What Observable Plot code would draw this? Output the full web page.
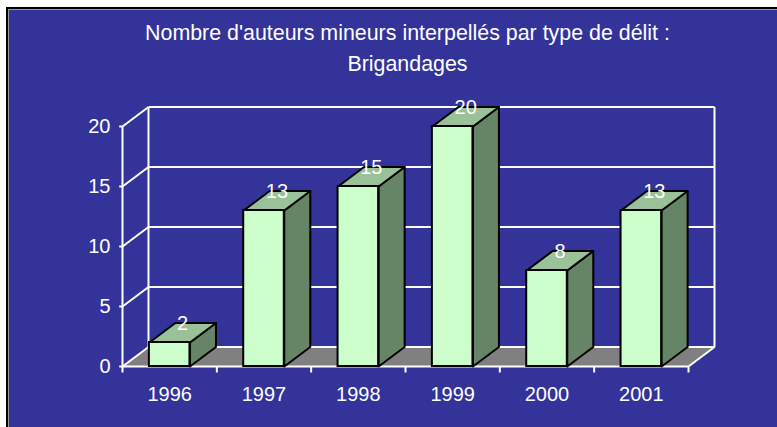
<!DOCTYPE html>
<html>
<head>
<meta charset="utf-8">
<script src="https://cdn.jsdelivr.net/npm/d3@7"></script>
<script src="https://cdn.jsdelivr.net/npm/@observablehq/plot@0.6"></script>
<style>
  html, body { margin: 0; padding: 0; background: #ffffff; width: 777px; height: 427px; overflow: hidden; }
  #panel { position: absolute; left: 6px; top: 7px; right: 0; bottom: 0; background: #333399;
           border-left: 2px solid #000; border-top: 2px solid #000; box-shadow: inset 1px 1px 0 #9a9a9a; }
  #title { position: absolute; left: 0; top: 18px; width: 815px; text-align: center; color: #ffffff;
           font-family: "Liberation Sans", Arial, sans-serif; font-size: 21.4px; line-height: 31px; }
  #chart { position: absolute; left: 0; top: 0; }
</style>
</head>
<body>
<div id="panel"></div>
<div id="title">Nombre d'auteurs mineurs interpellés par type de délit :<br>Brigandages</div>
<div id="chart"></div>
<script>
// ---- data ----
const years = ["1996", "1997", "1998", "1999", "2000", "2001"];
const values = [2, 13, 15, 20, 8, 13];
const yTicks = [0, 5, 10, 15, 20];

// ---- presentation constants (data units of the scales) ----
const depthX = 0.2756;   // 3D depth offset along x (in category units)
const depthY = 1.625;    // 3D depth offset along y (in value units)
const halfW = 0.215;     // half width of a bar (category units)
const nCat = years.length;
const yMax = yTicks[yTicks.length - 1];

const bars = years.map((yr, i) => ({year: yr, value: values[i], x0: i + 0.5 - halfW, x1: i + 0.5 + halfW, c: i + 0.5}));

// polygons for side and top faces
const sideFaces = [], topFaces = [];
bars.forEach((b, i) => {
  [[b.x1, 0], [b.x1 + depthX, depthY], [b.x1 + depthX, b.value + depthY], [b.x1, b.value]]
    .forEach(([x, y]) => sideFaces.push({id: i, x, y}));
  [[b.x0, b.value], [b.x1, b.value], [b.x1 + depthX, b.value + depthY], [b.x0 + depthX, b.value + depthY]]
    .forEach(([x, y]) => topFaces.push({id: i, x, y}));
});
const floor = [[0, 0], [nCat, 0], [nCat + depthX, depthY], [depthX, depthY]].map(([x, y]) => ({x, y}));

// white frame lines
const gridLines = [];
yTicks.forEach(t => {
  gridLines.push({x1: depthX, y1: t + depthY, x2: nCat + depthX, y2: t + depthY}); // back wall
  gridLines.push({x1: 0, y1: t, x2: depthX, y2: t + depthY});                      // left wall
});
gridLines.push({x1: depthX, y1: depthY, x2: depthX, y2: yMax + depthY});
gridLines.push({x1: nCat + depthX, y1: depthY, x2: nCat + depthX, y2: yMax + depthY});
gridLines.push({x1: nCat, y1: 0, x2: nCat + depthX, y2: depthY});
gridLines.push({x1: 0, y1: 0, x2: nCat, y2: 0});
gridLines.push({x1: 0, y1: 0, x2: 0, y2: yMax});

const boundaries = d3.range(0, nCat + 1);

const font = "'Liberation Sans', Arial, sans-serif";
const plot = Plot.plot({
  width: 777,
  height: 427,
  marginLeft: 122,
  marginRight: 89,
  marginTop: 126,
  marginBottom: 61,
  x: {type: "linear", domain: [0, nCat], axis: null},
  y: {type: "linear", domain: [0, yMax], axis: null},
  style: {background: "transparent", fontFamily: font, overflow: "visible"},
  marks: [
    Plot.line(floor, {x: "x", y: "y", curve: "linear-closed", fill: "#808080", stroke: "none"}),
    Plot.link(gridLines, {x1: "x1", y1: "y1", x2: "x2", y2: "y2", stroke: "#ffffff", strokeWidth: 2}),
    // y ticks
    Plot.link(yTicks, {x1: -0.035, x2: 0, y1: d => d, y2: d => d, stroke: "#ffffff", strokeWidth: 2}),
    // x ticks
    Plot.link(boundaries, {x1: d => d, x2: d => d, y1: 0, y2: -0.5, stroke: "#ffffff", strokeWidth: 2}),
    // bars
    Plot.line(sideFaces, {x: "x", y: "y", z: "id", curve: "linear-closed", fill: "#668566", stroke: "#000000", strokeWidth: 2, strokeLinejoin: "round"}),
    Plot.line(topFaces, {x: "x", y: "y", z: "id", curve: "linear-closed", fill: "#99c299", stroke: "#000000", strokeWidth: 2, strokeLinejoin: "round"}),
    Plot.rect(bars, {x1: "x0", x2: "x1", y1: 0, y2: "value", fill: "#ccffcc", stroke: "#000000", strokeWidth: 2}),
    // value labels
    Plot.text(bars, {x: d => d.c + depthX / 2, y: d => d.value + depthY / 2, text: d => String(d.value),
      fill: "#ffffff", fontSize: 20, textAnchor: "middle", lineAnchor: "middle", dy: -9}),
    // y tick labels
    Plot.text(yTicks, {x: 0, y: d => d, text: d => String(d), fill: "#ffffff", fontSize: 20,
      textAnchor: "end", lineAnchor: "middle", dx: -12}),
    // x category labels
    Plot.text(bars, {x: "c", y: 0, text: "year", fill: "#ffffff", fontSize: 20,
      textAnchor: "middle", lineAnchor: "middle", dy: 28})
  ]
});
document.getElementById("chart").appendChild(plot);
</script>
</body>
</html>
